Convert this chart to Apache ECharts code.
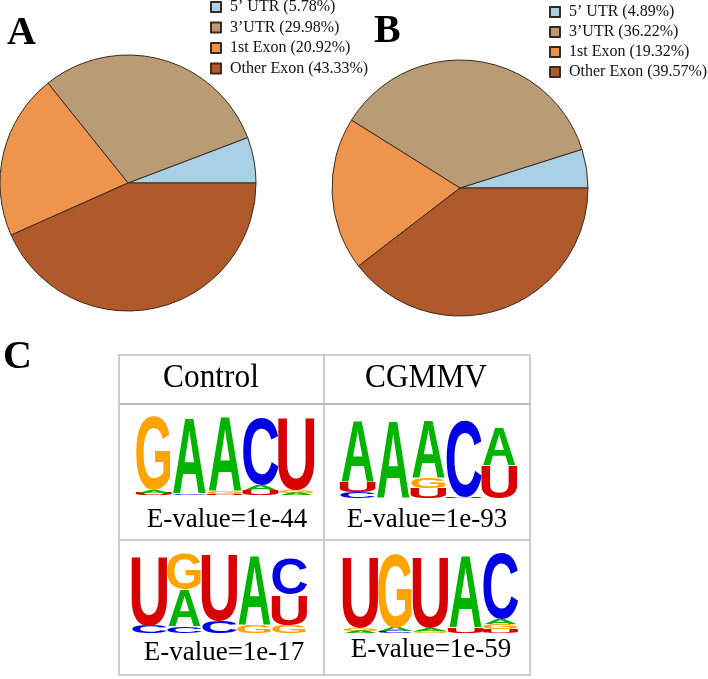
<!DOCTYPE html>
<html>
<head>
<meta charset="utf-8">
<script src="https://cdn.jsdelivr.net/npm/echarts@6/dist/echarts.min.js"></script>
<style>html,body{margin:0;padding:0;background:#fff;}#c{width:708px;height:679px;}</style>
</head>
<body>
<div id="c"></div>
<script>
// ---------- data ----------
const regionNames = ['5’ UTR', '3’UTR', '1st Exon', 'Other Exon'];
const pieAValues = [5.78, 29.98, 20.92, 43.33];
const pieBValues = [4.89, 36.22, 19.32, 39.57];
const pieColors = ['#a8d0e6', '#b99c76', '#ef944c', '#b0592b'];

const columnHeaders = ['Control', 'CGMMV'];
const eValues = ['E-value=1e-44', 'E-value=1e-93', 'E-value=1e-17', 'E-value=1e-59'];

// motif logos: each position is a stack (bottom -> top) of [letter, bits]
const logoControl1 = [
  [['U', 0.05], ['A', 0.07], ['G', 1.85]],
  [['C', 0.02], ['A', 1.93]],
  [['U', 0.02], ['G', 0.05], ['A', 1.88]],
  [['U', 0.13], ['A', 0.13], ['C', 1.69]],
  [['A', 0.05], ['G', 0.07], ['U', 1.82]]
];
const logoCGMMV1 = [
  [['C', 0.15], ['U', 0.25], ['A', 1.55]],
  [['A', 1.95]],
  [['U', 0.25], ['G', 0.25], ['A', 1.45]],
  [['U', 0.02], ['C', 1.93]],
  [['U', 0.82], ['A', 0.95]]
];
const logoControl2 = [
  [['C', 0.18], ['U', 1.75]],
  [['C', 0.17], ['A', 0.92], ['G', 0.88]],
  [['C', 0.30], ['U', 1.68]],
  [['G', 0.20], ['A', 1.75]],
  [['G', 0.20], ['U', 0.75], ['C', 0.90]]
];
const logoCGMMV2 = [
  [['A', 0.06], ['G', 0.06], ['U', 1.80]],
  [['C', 0.05], ['A', 0.08], ['G', 1.85]],
  [['G', 0.05], ['A', 0.07], ['U', 1.80]],
  [['U', 0.12], ['A', 1.82]],
  [['U', 0.10], ['G', 0.12], ['A', 0.12], ['C', 1.65]]
];

// ---------- styles ----------
const letterColor = { A: '#00b400', C: '#0000e6', G: '#ffa300', U: '#d80000' };
const letterInk = { A: 0.72, C: 0.64, G: 0.69, U: 0.58 };
const SERIF = '"Liberation Serif", "Times New Roman", serif';

function stackData(cols) {
  const out = [];
  cols.forEach((stack, i) => {
    let y = 0;
    stack.forEach(([l, h]) => { out.push([i, y, y + h, l]); y += h; });
  });
  return out;
}

function logoSeries(cols, idx) {
  const data = stackData(cols);
  return {
    type: 'custom',
    xAxisIndex: idx, yAxisIndex: idx,
    silent: true,
    data: data,
    renderItem: function (params, api) {
      const d = data[params.dataIndex];
      const l = d[3];
      const p0 = api.coord([d[0], d[1]]);
      const p1 = api.coord([d[0], d[2]]);
      const w = api.size([1, 0])[0] * 0.97;
      const h = Math.max(p0[1] - p1[1], 0.01);
      const F = 100;
      const sy = h / (0.716 * F);
      return {
        type: 'text',
        x: p0[0],
        y: (p0[1] + p1[1]) / 2 + 0.072 * F * sy,
        scaleX: w / (letterInk[l] * F),
        scaleY: sy,
        style: {
          text: l,
          font: 'bold 100px "Liberation Sans", Arial, sans-serif',
          fill: letterColor[l],
          align: 'center',
          verticalAlign: 'middle'
        }
      };
    }
  };
}

const logoGrids = [
  { left: 136, top: 415, width: 178, height: 80 },
  { left: 340, top: 418, width: 177, height: 80 },
  { left: 132, top: 553, width: 175, height: 80 },
  { left: 343, top: 553, width: 175, height: 80 }
];
const logos = [logoControl1, logoCGMMV1, logoControl2, logoCGMMV2];

function pieSeries(values, center) {
  return {
    type: 'pie',
    center: center,
    radius: 128,
    startAngle: 0,
    clockwise: false,
    silent: true,
    label: { show: false },
    labelLine: { show: false },
    itemStyle: { borderColor: '#3b2a1c', borderWidth: 1 },
    data: regionNames.map((n, i) => ({ name: n, value: values[i] }))
  };
}

function legendFor(values, left, top, gap) {
  return {
    orient: 'vertical', left: left, top: top, padding: 0,
    itemWidth: 10, itemHeight: 10, itemGap: gap, icon: 'rect',
    selectedMode: false,
    data: regionNames,
    formatter: n => n + ' (' + values[regionNames.indexOf(n)].toFixed(2) + '%)',
    textStyle: { fontFamily: SERIF, fontSize: 16, color: '#111', lineHeight: 16, padding: [0, 0, 0, 4] }
  };
}

// table geometry
const T = { left: 119, mid: 324, right: 530, top: 355, head: 404, row: 540, bottom: 675 };
const lineStyle = { stroke: '#bdbdbd', lineWidth: 1.5 };
const graphics = [
  { type: 'rect', shape: { x: T.left, y: T.top, width: T.right - T.left, height: T.bottom - T.top }, style: { fill: 'none', stroke: '#bdbdbd', lineWidth: 1.5 } },
  { type: 'line', shape: { x1: T.mid, y1: T.top, x2: T.mid, y2: T.bottom }, style: lineStyle },
  { type: 'line', shape: { x1: T.left, y1: T.head, x2: T.right, y2: T.head }, style: { stroke: '#bdbdbd', lineWidth: 2 } },
  { type: 'line', shape: { x1: T.left, y1: T.row, x2: T.right, y2: T.row }, style: lineStyle },
  { type: 'text', x: 7, y: 33.5, style: { text: 'A', font: 'bold 40px ' + SERIF, fill: '#000', align: 'left', verticalAlign: 'middle' } },
  { type: 'text', x: 374, y: 31.5, style: { text: 'B', font: 'bold 40px ' + SERIF, fill: '#000', align: 'left', verticalAlign: 'middle' } },
  { type: 'text', x: 3, y: 358, style: { text: 'C', font: 'bold 40px ' + SERIF, fill: '#000', align: 'left', verticalAlign: 'middle' } },
  { type: 'text', x: 211, y: 378, scaleX: 0.95, style: { text: columnHeaders[0], font: '33px ' + SERIF, fill: '#000', align: 'center', verticalAlign: 'middle' } },
  { type: 'text', x: 426, y: 378, scaleX: 0.95, style: { text: columnHeaders[1], font: '33px ' + SERIF, fill: '#000', align: 'center', verticalAlign: 'middle' } }
];
const evPos = [[227, 519.5], [427, 520], [224, 653], [431, 649.5]];
eValues.forEach((t, i) => graphics.push({
  type: 'text', x: evPos[i][0], y: evPos[i][1],
  style: { text: t, font: '27px ' + SERIF, fill: '#000', align: 'center', verticalAlign: 'middle' }
}));

const option = {
  animation: false,
  backgroundColor: '#ffffff',
  color: pieColors,
  legend: [legendFor(pieAValues, 210, -1, 4.5), legendFor(pieBValues, 549, 4, 4)],
  grid: logoGrids,
  xAxis: logoGrids.map((g, i) => ({ type: 'value', gridIndex: i, min: -0.5, max: 4.5, show: false })),
  yAxis: logoGrids.map((g, i) => ({ type: 'value', gridIndex: i, min: 0, max: 2, show: false })),
  series: [
    pieSeries(pieAValues, [128, 183]),
    pieSeries(pieBValues, [460, 188])
  ].concat(logos.map((l, i) => logoSeries(l, i))),
  graphic: graphics
};

const chart = echarts.init(document.getElementById('c'), null, { renderer: 'canvas' });
chart.setOption(option);
</script>
</body>
</html>
